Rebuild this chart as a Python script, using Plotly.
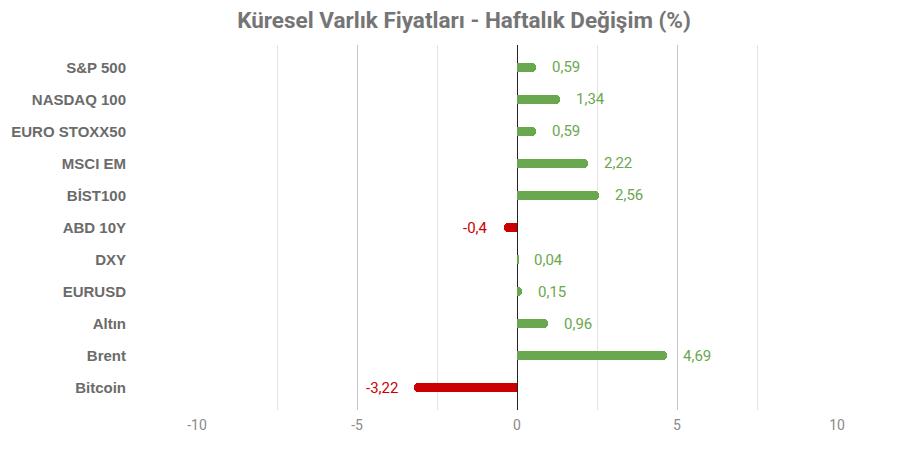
import plotly.graph_objects as go

# Weekly change (%) per asset
assets = ["S&P 500", "NASDAQ 100", "EURO STOXX50", "MSCI EM", "BİST100", "ABD 10Y",
          "DXY", "EURUSD", "Altın", "Brent", "Bitcoin"]
changes = [0.59, 1.34, 0.59, 2.22, 2.56, -0.4, 0.04, 0.15, 0.96, 4.69, -3.22]
x_ticks = [-10, -5, 0, 5, 10]
x_tick_labels = ["-10", "-5", "0", "5", "10"]

green = "#6aa84f"
red = "#cc0000"
colors = [green if v >= 0 else red for v in changes]
labels = [f"{v:g}".replace(".", ",") for v in changes]

fig = go.Figure()
fig.add_trace(go.Bar(
    x=changes,
    y=assets,
    orientation="h",
    width=0.26,
    marker=dict(color=colors, cornerradius=4, line=dict(width=0)),
    hoverinfo="skip",
))

# value labels beside bar ends
for a, v, lab, c in zip(assets, changes, labels, colors):
    fig.add_annotation(
        x=v, y=a, text=lab, showarrow=False,
        xanchor="left" if v >= 0 else "right",
        xshift=14 if v >= 0 else -14,
        font=dict(family="Roboto", size=15, color=c),
    )

fig.update_layout(
    title=dict(
        text="<b>Küresel Varlık Fiyatları - Haftalık Değişim (%)</b>",
        x=0.5, xanchor="center", y=0.972, yanchor="middle",
        font=dict(family="Roboto", size=22.5, color="#757575"),
    ),
    width=912, height=448,
    margin=dict(l=189, r=83, t=37, b=46, autoexpand=False),
    plot_bgcolor="white",
    paper_bgcolor="white",
    showlegend=False,
    bargap=0,
    xaxis=dict(
        range=[-10, 10],
        tickmode="array", tickvals=x_ticks, ticktext=x_tick_labels,
        showgrid=True, gridcolor="#c6c6c6", gridwidth=1,
        minor=dict(dtick=2.5, tick0=0, showgrid=True, gridcolor="#e3e3e3", gridwidth=1),
        zeroline=True, zerolinecolor="#222222", zerolinewidth=1,
        showline=False, ticks="", automargin=False,
        ticklabelstandoff=5,
        tickfont=dict(family="Roboto", size=14, color="#8a8a8a"),
    ),
    yaxis=dict(
        type="category",
        range=[10.7, -0.7],
        showgrid=False, zeroline=False, showline=False, ticks="",
        automargin=False,
        ticklabelstandoff=70,
        tickfont=dict(family="Liberation Sans", size=15, color="#6b6b6b", weight="bold"),
    ),
)

fig.write_html("out.html")
